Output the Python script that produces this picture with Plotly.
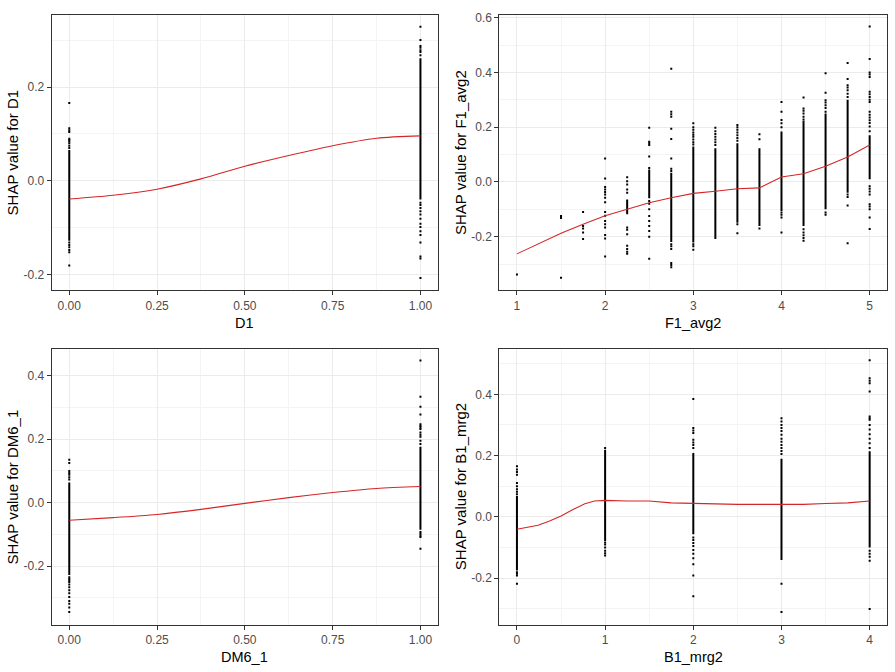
import plotly.graph_objects as go

# ---------------- Panel 1: D1 ----------------
D1_x = [0, 1]
D1_core_lo = [-0.128, -0.040]
D1_core_hi = [0.066, 0.262]
D1_points = [
    [0.166, 0.112, 0.108, 0.104, 0.090, 0.087, 0.084, 0.080, 0.075, 0.070,
     -0.132, -0.137, -0.142, -0.148, -0.153, -0.181],
    [0.329, 0.301, 0.288, 0.284, 0.279, 0.275, 0.268, -0.047, -0.052, -0.058,
     -0.065, -0.072, -0.081, -0.092, -0.099, -0.108, -0.116, -0.132, -0.162,
     -0.166, -0.208],
]
D1_smooth_x = [0, 0.125, 0.25, 0.375, 0.5, 0.625, 0.75, 0.875, 1.0]
D1_smooth_y = [-0.039, -0.031, -0.018, 0.004, 0.031, 0.054, 0.075, 0.091, 0.096]
D1_xticks = [0, 0.25, 0.5, 0.75, 1.0]
D1_xlabels = ["0.00", "0.25", "0.50", "0.75", "1.00"]
D1_yticks = [-0.2, 0.0, 0.2]
D1_ylabels = ["-0.2", "0.0", "0.2"]

# ---------------- Panel 2: F1_avg2 ----------------
F1_x = [1, 1.5, 1.75, 2, 2.25, 2.5, 2.75, 3, 3.25, 3.5, 3.75, 4, 4.25, 4.5, 4.75, 5]
F1_core_lo = [None, None, None, None, -0.118, -0.060, -0.220, -0.221, -0.209,
              -0.149, -0.161, -0.106, -0.161, -0.100, -0.040, 0.010]
F1_core_hi = [None, None, None, None, -0.064, 0.045, 0.033, 0.129, 0.123,
              0.141, 0.123, 0.184, 0.217, 0.250, 0.300, 0.170]
F1_points = [
    [-0.338],
    [-0.125, -0.132, -0.350],
    [-0.110, -0.161, -0.170, -0.185, -0.209],
    [0.085, 0.012, -0.019, -0.028, -0.037, -0.046, -0.058, -0.074, -0.110,
     -0.124, -0.143, -0.155, -0.167, -0.194, -0.207, -0.273],
    [0.017, 0.002, -0.010, -0.028, -0.040, -0.167, -0.175, -0.191, -0.233,
     -0.245, -0.255, -0.263],
    [0.198, 0.147, 0.141, 0.135, 0.093, 0.051, -0.070, -0.080, -0.100, -0.125,
     -0.143, -0.161, -0.179, -0.200, -0.281],
    [0.413, 0.256, 0.247, 0.238, 0.194, 0.157, 0.085, 0.048, 0.040, -0.228,
     -0.235, -0.245, -0.296, -0.304, -0.312],
    [0.214, 0.200, 0.190, 0.180, 0.172, 0.165, 0.155, 0.145, 0.137, -0.228,
     -0.235, -0.248],
    [0.198, 0.185, 0.175, 0.165, 0.155, 0.145, 0.135],
    [0.208, 0.200, 0.190, 0.180, 0.170, 0.160, 0.150, -0.155, -0.188],
    [0.174, 0.156, -0.170],
    [0.292, 0.256, 0.226, 0.214, 0.200, -0.112, -0.120, -0.130, -0.185],
    [0.308, 0.268, 0.260, 0.250, 0.238, 0.228, 0.220, -0.173, -0.185, -0.195,
     -0.205, -0.215],
    [0.397, 0.326, 0.298, 0.290, 0.280, 0.270, 0.256, -0.112, -0.120],
    [0.434, 0.376, 0.353, 0.345, 0.335, 0.322, 0.310, -0.046, -0.055, -0.086,
     -0.224],
    [0.568, 0.449, 0.400, 0.392, 0.383, 0.329, 0.320, 0.310, 0.300, 0.292,
     0.256, 0.245, 0.235, 0.225, 0.215, 0.202, 0.185, -0.016, -0.025, -0.035,
     -0.046, -0.082, -0.090, -0.100, -0.130, -0.172],
]
F1_smooth_x = [1.0, 1.5, 1.75, 2.0, 2.25, 2.5, 2.75, 3.0, 3.25, 3.5, 3.75, 4.0,
               4.25, 4.5, 4.75, 5.0]
F1_smooth_y = [-0.263, -0.188, -0.155, -0.124, -0.100, -0.076, -0.058, -0.042,
               -0.034, -0.025, -0.022, 0.018, 0.030, 0.057, 0.091, 0.135]
F1_xticks = [1, 2, 3, 4, 5]
F1_xlabels = ["1", "2", "3", "4", "5"]
F1_yticks = [-0.2, 0.0, 0.2, 0.4, 0.6]
F1_ylabels = ["-0.2", "0.0", "0.2", "0.4", "0.6"]

# ---------------- Panel 3: DM6_1 ----------------
DM6_x = [0, 1]
DM6_core_lo = [-0.228, -0.085]
DM6_core_hi = [0.064, 0.176]
DM6_points = [
    [0.135, 0.125, 0.100, 0.094, 0.088, 0.080, 0.073, -0.235, -0.240, -0.245,
     -0.250, -0.258, -0.266, -0.276, -0.285, -0.297, -0.310, -0.318, -0.330,
     -0.344],
    [0.448, 0.334, 0.302, 0.278, 0.247, 0.242, 0.237, 0.232, 0.221, 0.214,
     0.208, 0.195, 0.185, -0.092, -0.098, -0.103, -0.108, -0.145],
]
DM6_smooth_x = [0, 0.125, 0.25, 0.375, 0.5, 0.625, 0.75, 0.875, 1.0]
DM6_smooth_y = [-0.055, -0.047, -0.037, -0.021, -0.002, 0.016, 0.032, 0.045, 0.051]
DM6_xticks = [0, 0.25, 0.5, 0.75, 1.0]
DM6_xlabels = ["0.00", "0.25", "0.50", "0.75", "1.00"]
DM6_yticks = [-0.2, 0.0, 0.2, 0.4]
DM6_ylabels = ["-0.2", "0.0", "0.2", "0.4"]

# ---------------- Panel 4: B1_mrg2 ----------------
B1_x = [0, 1, 2, 3, 4]
B1_core_lo = [-0.175, -0.078, -0.056, -0.140, -0.100]
B1_core_hi = [0.068, 0.219, 0.209, 0.190, 0.214]
B1_points = [
    [0.165, 0.155, 0.147, 0.138, 0.111, 0.100, 0.090, 0.082, 0.074, -0.180,
     -0.185, -0.191, -0.218],
    [0.225, -0.083, -0.090, -0.100, -0.110, -0.118, -0.126],
    [0.385, 0.290, 0.282, 0.274, 0.252, 0.243, 0.235, 0.225, -0.067, -0.075,
     -0.085, -0.095, -0.108, -0.120, -0.135, -0.154, -0.191, -0.259],
    [0.322, 0.311, 0.300, 0.290, 0.280, 0.268, 0.255, 0.245, 0.235, 0.225,
     0.215, 0.205, -0.218, -0.310],
    [0.511, 0.452, 0.444, 0.436, 0.409, 0.328, 0.322, 0.317, 0.300, 0.285,
     0.270, 0.255, 0.240, 0.225, -0.110, -0.120, -0.130, -0.143, -0.300],
]
B1_smooth_x = [0, 0.24, 0.37, 0.5, 0.62, 0.77, 0.88, 1.0, 1.25, 1.5, 1.75, 2.0,
               2.25, 2.5, 3.0, 3.25, 3.5, 3.75, 4.0]
B1_smooth_y = [-0.040, -0.027, -0.013, 0.003, 0.022, 0.043, 0.052, 0.054, 0.052,
               0.052, 0.046, 0.044, 0.041, 0.041, 0.041, 0.041, 0.044, 0.046, 0.052]
B1_xticks = [0, 1, 2, 3, 4]
B1_xlabels = ["0", "1", "2", "3", "4"]
B1_yticks = [-0.2, 0.0, 0.2, 0.4]
B1_ylabels = ["-0.2", "0.0", "0.2", "0.4"]

FONT = "Liberation Sans, Arial, sans-serif"

panels = [
    dict(name="D1", xs=D1_x, lo=D1_core_lo, hi=D1_core_hi, pts=D1_points,
         sx=D1_smooth_x, sy=D1_smooth_y, shape="spline", ax="x", ay="y",
         xt=(D1_xticks, D1_xlabels), yt=(D1_yticks, D1_ylabels),
         xr=[-0.05, 1.05], yr=[-0.234, 0.355], xminor=0.125,
         xd=[0.05777, 0.48939], yd=[0.57143, 0.98408]),
    dict(name="F1_avg2", xs=F1_x, lo=F1_core_lo, hi=F1_core_hi, pts=F1_points,
         sx=F1_smooth_x, sy=F1_smooth_y, shape="linear", ax="x2", ay="y2",
         xt=(F1_xticks, F1_xlabels), yt=(F1_yticks, F1_ylabels),
         xr=[0.8, 5.2], yr=[-0.396, 0.611], xminor=0.5,
         xd=[0.55788, 0.99140], yd=[0.57143, 0.98408]),
    dict(name="DM6_1", xs=DM6_x, lo=DM6_core_lo, hi=DM6_core_hi, pts=DM6_points,
         sx=DM6_smooth_x, sy=DM6_smooth_y, shape="spline", ax="x3", ay="y3",
         xt=(DM6_xticks, DM6_xlabels), yt=(DM6_yticks, DM6_ylabels),
         xr=[-0.05, 1.05], yr=[-0.384, 0.4855], xminor=0.125,
         xd=[0.05777, 0.48939], yd=[0.07098, 0.48408]),
    dict(name="B1_mrg2", xs=B1_x, lo=B1_core_lo, hi=B1_core_hi, pts=B1_points,
         sx=B1_smooth_x, sy=B1_smooth_y, shape="linear", ax="x4", ay="y4",
         xt=(B1_xticks, B1_xlabels), yt=(B1_yticks, B1_ylabels),
         xr=[-0.2, 4.2], yr=[-0.351, 0.549], xminor=0.5,
         xd=[0.55788, 0.99140], yd=[0.07098, 0.48408]),
]

fig = go.Figure()
annotations = []

for p in panels:
    # dense core of each strip
    cx, cy = [], []
    for xv, lo, hi in zip(p["xs"], p["lo"], p["hi"]):
        if lo is None:
            continue
        cx += [xv, xv, None]
        cy += [lo, hi, None]
    fig.add_trace(go.Scatter(x=cx, y=cy, mode="lines",
                             line=dict(color="black", width=2),
                             xaxis=p["ax"], yaxis=p["ay"], showlegend=False,
                             hoverinfo="skip"))
    # individual points
    px, py = [], []
    for xv, vals in zip(p["xs"], p["pts"]):
        px += [xv] * len(vals)
        py += vals
    fig.add_trace(go.Scatter(x=px, y=py, mode="markers",
                             marker=dict(color="black", size=2, symbol="square",
                                         line=dict(width=0)),
                             xaxis=p["ax"], yaxis=p["ay"], showlegend=False))
    # smooth line
    fig.add_trace(go.Scatter(x=p["sx"], y=p["sy"], mode="lines",
                             line=dict(color="#D42626", width=1.1, shape=p["shape"],
                                       smoothing=0.8),
                             xaxis=p["ax"], yaxis=p["ay"], showlegend=False))

    axis_common = dict(showgrid=True, gridcolor="#EBEBEB", gridwidth=1,
                       zeroline=False, showline=True, linecolor="#333333",
                       linewidth=1, mirror=True, ticks="outside", ticklen=4,
                       tickcolor="#333333", tickwidth=1,
                       tickfont=dict(family=FONT, size=12, color="#4D4D4D"))
    xkey = "xaxis" + p["ax"][1:]
    ykey = "yaxis" + p["ay"][1:]
    fig.update_layout(**{
        xkey: dict(axis_common, domain=p["xd"], anchor=p["ay"], range=p["xr"],
                   tickmode="array", tickvals=p["xt"][0], ticktext=p["xt"][1],
                   minor=dict(tick0=0, dtick=p["xminor"], showgrid=True,
                              gridcolor="#F4F4F4", gridwidth=1, ticks="")),
        ykey: dict(axis_common, domain=p["yd"], anchor=p["ax"], range=p["yr"],
                   tickmode="array", tickvals=p["yt"][0], ticktext=p["yt"][1],
                   minor=dict(tick0=0, dtick=0.1, showgrid=True,
                              gridcolor="#F4F4F4", gridwidth=1, ticks="")),
    })
    # axis titles
    xc = (p["xd"][0] + p["xd"][1]) / 2
    yc = (p["yd"][0] + p["yd"][1]) / 2
    annotations.append(dict(text=p["name"], x=xc, y=p["yd"][0] - 0.0484,
                            xref="paper", yref="paper", showarrow=False,
                            xanchor="center", yanchor="middle",
                            font=dict(family=FONT, size=14.5, color="black")))
    annotations.append(dict(text="SHAP value for " + p["name"],
                            x=p["xd"][0] - 0.0433, y=yc,
                            xref="paper", yref="paper", showarrow=False,
                            textangle=-90, xanchor="center", yanchor="middle",
                            font=dict(family=FONT, size=15, color="black")))

fig.update_layout(width=895, height=672, margin=dict(l=0, r=0, t=0, b=0),
                  paper_bgcolor="white", plot_bgcolor="white",
                  annotations=annotations, showlegend=False,
                  font=dict(family=FONT))

fig.write_html("out.html", config={"displayModeBar": False},
               post_script="document.body.style.margin='0';"
                           "document.body.style.overflow='hidden';")
